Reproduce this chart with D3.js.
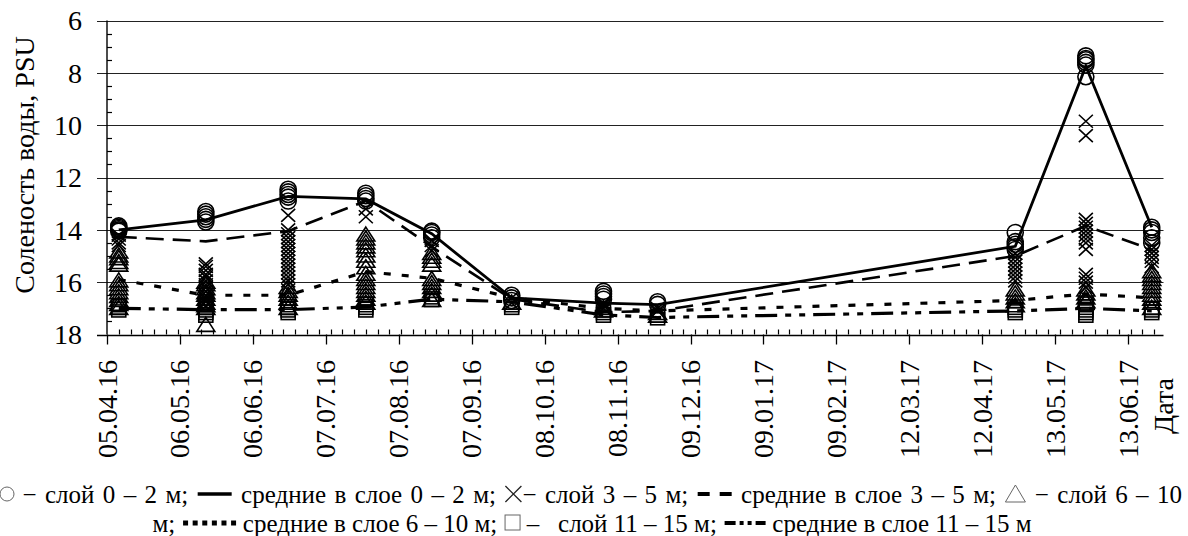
<!DOCTYPE html>
<html><head><meta charset="utf-8">
<script src="https://cdn.jsdelivr.net/npm/d3@7"></script>
<style>
body{margin:0;background:#fff}
svg{display:block}
text{font-family:"Liberation Serif","Times New Roman",serif;fill:#000}
</style>
</head><body>
<svg id="c" width="1188" height="536"></svg>
<script>
// ---------------- data ----------------
const sampleDates = ["10.04.16","17.05.16","21.06.16","24.07.16","21.08.16","24.09.16","02.11.16","25.11.16","26.04.17","26.05.17","23.06.17"];
const tickLabels = ["05.04.16","06.05.16","06.06.16","07.07.16","07.08.16","07.09.16","08.10.16","08.11.16","09.12.16","09.01.17","09.02.17","12.03.17","12.04.17","13.05.17","13.06.17"];
const axisStart = "05.04.16";
const axisEnd = "28.06.17";
const yTicks = [6, 8, 10, 12, 14, 16, 18];
const yTitle = "Соленость воды, PSU";
const xTitle = "Дата";

// means per layer
const mean02   = [14.0, 13.62, 12.72, 12.82, 14.15, 16.6, 16.8, 16.86, 14.63, 7.75, 13.9];
const mean35   = [14.27, 14.44, 14.05, 12.9, 14.65, 16.65, 17.15, 17.1, 15.0, 13.85, 14.76];
const mean610  = [15.9, 16.5, 16.5, 15.6, 15.85, 16.6, 17.0, 17.1, 16.7, 16.45, 16.6];
const mean1115 = [17.0, 17.05, 17.05, 16.95, 16.65, 16.75, 17.25, 17.35, 17.1, 17.0, 17.1];

// individual measurements per sampling date
const obs02 = [
  [13.85, 13.9, 13.95, 14.0, 14.05],
  [13.3, 13.4, 13.5, 13.6, 13.7],
  [12.45, 12.55, 12.65, 12.75, 12.9],
  [12.6, 12.7, 12.8, 12.9],
  [14.05, 14.1, 14.2, 14.3],
  [16.5, 16.6, 16.7],
  [16.35, 16.45, 16.55, 16.65],
  [16.75, 16.85],
  [14.1, 14.45, 14.55, 14.65, 14.75],
  [7.35, 7.45, 7.5, 7.6, 7.7, 8.15],
  [13.9, 14.0, 14.1, 14.3, 14.5]
];
const obs35 = [
  [14.2, 14.35, 14.5, 14.6],
  [15.3, 15.4, 15.55, 15.7, 15.8, 15.95, 16.1, 16.2, 16.35, 16.5, 16.6, 16.75, 16.9],
  [13.45, 14.0, 14.15, 14.3, 14.45, 14.6, 14.75, 14.9, 15.05, 15.2, 15.35, 15.5, 15.65, 15.8, 15.95, 16.1, 16.3],
  [13.2, 13.5],
  [14.4, 14.6, 14.8],
  [16.6, 16.8],
  [16.8, 16.9, 17.0],
  [17.0, 17.1],
  [14.9, 15.05, 15.2, 15.35, 15.5, 15.65, 15.8, 15.95],
  [9.85, 10.4, 13.6, 13.75, 13.9, 14.05, 14.2, 14.35, 14.5, 14.75, 15.7, 15.85, 16.0, 16.2],
  [14.6, 14.75, 14.9, 15.05, 15.2, 15.4]
];
const obs610 = [
  [14.85, 15.0, 15.1, 15.25, 15.35, 15.95, 16.1, 16.25, 16.4, 16.55, 16.7, 16.85, 17.0],
  [16.0, 16.1, 16.25, 16.4, 16.5, 16.65, 16.8, 16.9, 17.0, 17.65],
  [16.2, 16.35, 16.5, 16.65, 16.8, 17.0],
  [14.2, 14.35, 14.5, 14.65, 14.8, 15.0, 15.2, 15.45, 15.7, 15.9, 16.05, 16.2, 16.35, 16.5, 16.65, 16.8],
  [14.9, 15.05, 15.2, 15.35, 15.9, 16.05, 16.2, 16.35, 16.5, 16.7],
  [16.8],
  [17.0, 17.1],
  [17.2, 17.3],
  [16.3, 16.45, 16.6, 16.75, 16.9],
  [16.3, 16.45, 16.6, 16.75],
  [15.6, 15.75, 15.9, 16.05, 16.2, 16.35, 16.5, 16.65, 16.8, 17.0]
];
const obs1115 = [
  [16.9, 17.0, 17.1],
  [16.8, 16.9, 17.0, 17.1, 17.2, 17.3],
  [16.9, 17.0, 17.1, 17.2],
  [16.8, 16.9, 17.0, 17.1],
  [16.5, 16.6, 16.7],
  [16.9, 17.0],
  [17.1, 17.2, 17.3],
  [17.3, 17.4],
  [17.0, 17.1, 17.2],
  [16.8, 16.9, 17.0, 17.1, 17.2, 17.3],
  [17.0, 17.1, 17.2]
];

const legendLine1 = [
  {sym:"circle"}, {text:" − слой 0 – 2 м; "}, {sym:"solid"}, {text:" средние в слое 0 – 2 м; "},
  {sym:"cross"}, {text:"− слой 3 – 5 м; "}, {sym:"dashed"}, {text:" средние в слое 3 – 5 м; "},
  {sym:"triangle"}, {text:" − слой 6 – 10"}
];
const legendLine2 = [
  {text:"м; "}, {sym:"dotted"}, {text:" средние в слое 6 – 10 м; "}, {sym:"square"},
  {text:" –   слой 11 – 15 м; "}, {sym:"dashdot"}, {text:" средние в слое 11 – 15 м"}
];

// ---------------- drawing ----------------
const parse = d3.utcParse("%d.%m.%y");
const svg = d3.select("#c");
const X0 = 107, X1 = 1163.5, Y0 = 20.5, Y1 = 334.5;
const x = d3.scaleUtc().domain([parse(axisStart), parse(axisEnd)]).range([X0, X1]);
const y = d3.scaleLinear().domain([6, 18]).range([Y0, Y1]);
const dates = sampleDates.map(parse);

const g = svg.append("g");
g.selectAll("line.grid").data(yTicks).join("line")
  .attr("x1", 97).attr("x2", X1)
  .attr("y1", d => Math.round(y(d)) + 0.5).attr("y2", d => Math.round(y(d)) + 0.5)
  .attr("stroke", d => d === 18 ? "#000" : "#222").attr("stroke-width", d => d === 18 ? 1.4 : 1.2);
const yMinor = d3.range(6, 18.001, 0.5).filter(v => v % 2 !== 0);
g.selectAll("line.ym").data(yMinor).join("line")
  .attr("x1", X0).attr("x2", X0 + 5)
  .attr("y1", d => Math.round(y(d)) + 0.5).attr("y2", d => Math.round(y(d)) + 0.5)
  .attr("stroke", "#000").attr("stroke-width", 1.2);
g.append("line").attr("x1", X0).attr("x2", X0).attr("y1", y(6)).attr("y2", y(18))
  .attr("stroke", "#000").attr("stroke-width", 1.4);
g.selectAll("text.yl").data(yTicks).join("text")
  .attr("x", 82).attr("y", d => y(d)).attr("dy", "0.35em")
  .attr("text-anchor", "end").attr("font-size", 28).text(d => d);
g.append("text").attr("transform", `translate(24,165) rotate(-90)`)
  .attr("text-anchor", "middle").attr("dominant-baseline", "central")
  .attr("font-size", 28).text(yTitle);

const tickDates = tickLabels.map(parse);
g.selectAll("line.xM").data(tickDates).join("line")
  .attr("x1", d => Math.round(x(d)) + 0.5).attr("x2", d => Math.round(x(d)) + 0.5)
  .attr("y1", Y1).attr("y2", Y1 + 10).attr("stroke", "#000").attr("stroke-width", 1.3);
const start = parse(axisStart);
const minorDates = d3.range(5, 450, 5).map(dd => d3.utcDay.offset(start, dd));
g.selectAll("line.xm").data(minorDates).join("line")
  .attr("x1", d => Math.round(x(d)) + 0.5).attr("x2", d => Math.round(x(d)) + 0.5)
  .attr("y1", Y1 - 5).attr("y2", Y1).attr("stroke", "#000").attr("stroke-width", 1.2);
g.selectAll("text.xl").data(tickDates).join("text")
  .attr("transform", d => `translate(${x(d)},360) rotate(-90)`)
  .attr("text-anchor", "end").attr("dominant-baseline", "central")
  .attr("font-size", 28).text((d, i) => tickLabels[i]);
g.append("text").attr("transform", `translate(1163,406) rotate(-90)`)
  .attr("text-anchor", "middle").attr("dominant-baseline", "central")
  .attr("font-size", 28).text(xTitle);

// mean lines
const lineGen = d3.line().x((d, i) => x(dates[i])).y(d => y(d));
const lineStyles = [
  {data: mean02, dash: null, w: 2.8},
  {data: mean35, dash: "18,9", w: 2.6},
  {data: mean610, dash: "7,11", w: 3.2},
  {data: mean1115, dash: "22,8,6,8,6,8", w: 3.2}
];
lineStyles.forEach(s => {
  svg.append("path").attr("d", lineGen(s.data)).attr("fill", "none")
    .attr("stroke", "#000").attr("stroke-width", s.w)
    .attr("stroke-dasharray", s.dash);
});

// markers
function flat(obs) { const r = []; obs.forEach((arr, i) => arr.forEach(v => r.push({d: dates[i], v}))); return r; }
const mk = svg.append("g").attr("fill", "none").attr("stroke", "#000").attr("stroke-width", 1.6);
mk.selectAll("rect.sq").data(flat(obs1115)).join("rect")
  .attr("x", d => x(d.d) - 7).attr("y", d => y(d.v) - 6).attr("width", 14).attr("height", 12);
mk.selectAll("path.tr").data(flat(obs610)).join("path")
  .attr("d", "M0,-8L9,6L-9,6Z").attr("transform", d => `translate(${x(d.d)},${y(d.v)})`);
mk.selectAll("path.cr").data(flat(obs35)).join("path")
  .attr("d", "M-7,-6.5L7,6.5M-7,6.5L7,-6.5").attr("transform", d => `translate(${x(d.d)},${y(d.v)})`);
mk.selectAll("circle.ci").data(flat(obs02)).join("circle")
  .attr("cx", d => x(d.d)).attr("cy", d => y(d.v)).attr("r", 8);

// legend
function drawSym(gs, kind, cx, cy) {
  const s = gs.append("g").attr("transform", `translate(${cx},${cy})`);
  if (kind === "circle") s.append("circle").attr("r", 7).attr("fill", "none").attr("stroke", "#666").attr("stroke-width", 1);
  if (kind === "cross") s.append("path").attr("d", "M-8,-8L8,8M-8,8L8,-8").attr("stroke", "#222").attr("stroke-width", 1.3);
  if (kind === "triangle") s.append("path").attr("d", "M0,-9L10,8L-10,8Z").attr("fill", "none").attr("stroke", "#666").attr("stroke-width", 1);
  if (kind === "square") s.append("rect").attr("x", -7).attr("y", -8).attr("width", 15).attr("height", 15).attr("fill", "none").attr("stroke", "#666").attr("stroke-width", 1);
  if (kind === "solid") s.append("line").attr("x1", -17).attr("x2", 17).attr("stroke", "#000").attr("stroke-width", 3.5);
  if (kind === "dashed") s.append("line").attr("x1", -17).attr("x2", 17).attr("stroke", "#000").attr("stroke-width", 4).attr("stroke-dasharray", "12,10");
  if (kind === "dotted") s.append("line").attr("x1", -26).attr("x2", 27).attr("stroke", "#000").attr("stroke-width", 5).attr("stroke-dasharray", "5,4.6");
  if (kind === "dashdot") s.append("line").attr("x1", -20).attr("x2", 21).attr("stroke", "#000").attr("stroke-width", 4).attr("stroke-dasharray", "11,4,4,4,4,4,11");
}
const symW = {circle: 14, cross: 18, triangle: 22, square: 17, solid: 36, dashed: 36, dotted: 55, dashdot: 43};
const FS = 25;
function drawLegendLine(items, baseline, left, right, centerX) {
  const lg = svg.append("g");
  const nat = items.map(it => {
    if (it.sym) return symW[it.sym];
    const t = lg.append("text").attr("font-size", FS).style("white-space", "pre").text(it.text);
    const w = t.node().getComputedTextLength(); t.remove(); return w;
  });
  const spaces = items.map(it => it.text ? (it.text.match(/ /g) || []).length : 0);
  let ws = 0, startX;
  if (left != null) {
    ws = ((right - left) - d3.sum(nat)) / d3.sum(spaces);
    startX = left;
  } else {
    startX = centerX - d3.sum(nat) / 2;
  }
  let cx = startX;
  items.forEach((it, i) => {
    const w = nat[i] + spaces[i] * ws;
    if (it.sym) drawSym(lg, it.sym, cx + w / 2, baseline - 9);
    else lg.append("text").attr("x", cx).attr("y", baseline).attr("font-size", FS)
      .style("white-space", "pre").style("word-spacing", ws + "px").text(it.text);
    cx += w;
  });
}
drawLegendLine(legendLine1, 503, 0, 1182, null);
drawLegendLine(legendLine2, 532, null, null, 592);
</script>
</body></html>
